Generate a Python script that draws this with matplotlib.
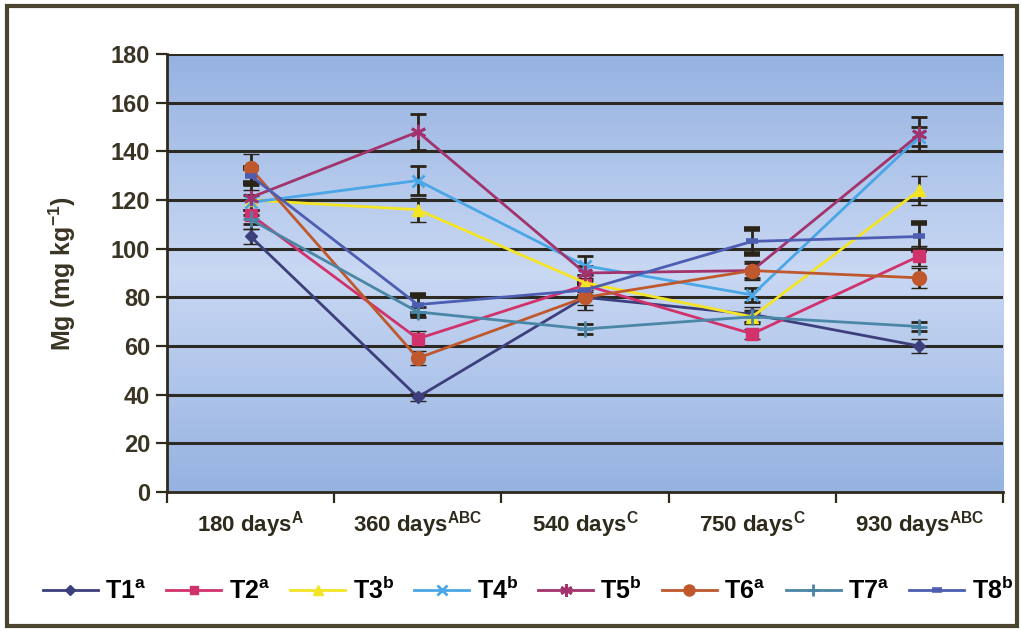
import numpy as np
import matplotlib
matplotlib.use("Agg")
import matplotlib.pyplot as plt
from matplotlib.colors import LinearSegmentedColormap
from matplotlib.lines import Line2D

plt.rcParams["font.family"] = ["Liberation Sans", "DejaVu Sans"]
plt.rcParams["font.weight"] = "bold"
plt.rcParams["mathtext.fontset"] = "custom"
plt.rcParams["mathtext.rm"] = "Liberation Sans:bold"
plt.rcParams["mathtext.bf"] = "Liberation Sans:bold"
plt.rcParams["mathtext.default"] = "bf"

days = ["180 days", "360 days", "540 days", "750 days", "930 days"]
day_letters = ["A", "ABC", "C", "C", "ABC"]

treatments = ["T1", "T2", "T3", "T4", "T5", "T6", "T7", "T8"]
treat_letters = ["a", "a", "b", "b", "b", "a", "a", "b"]

t1 = [105, 39, 80, 73, 60]
t2 = [114, 63, 85, 65, 97]
t3 = [120, 116, 86, 72, 124]
t4 = [119, 128, 93, 81, 146]
t5 = [121, 148, 90, 91, 147]
t6 = [133, 55, 80, 91, 88]
t7 = [112, 74, 67, 72, 68]
t8 = [130, 77, 83, 103, 105]

t1_err = [3, 1.5, 3, 3, 3]
t2_err = [6, 3, 3, 2, 4]
t3_err = [4, 5, 3, 3, 6]
t4_err = [3, 6, 4, 3, 4]
t5_err = [5, 7.5, 3, 3, 7]
t6_err = [6, 3, 5, 4, 4]
t7_err = [2, 2, 2, 2, 2]
t8_err = [3, 4, 3, 5, 5.5]

values = [t1, t2, t3, t4, t5, t6, t7, t8]
errors = [t1_err, t2_err, t3_err, t4_err, t5_err, t6_err, t7_err, t8_err]

colors = ["#3d3f7c", "#d2326c", "#f3e425", "#4aa6e6",
          "#a2336c", "#c0582e", "#4a86a6", "#4d5db2"]
markers = ["D", "s", "^", "x", (6, 2, 0), "o", "+", "_"]
msizes = [6, 8, 9, 9, 11, 10, 11, 9]
mews = [1, 1, 1, 2, 2, 1, 2, 4]

fig = plt.figure(figsize=(10.22, 6.31), dpi=100)
ax = fig.add_axes([167 / 1022, 1 - 492 / 631, 836 / 1022, 438 / 631])

# gradient background: darker blue at top and bottom, pale in the middle
grad_cmap = LinearSegmentedColormap.from_list(
    "bg", [(0.0, "#95b2e1"), (0.5, "#c9d8f3"), (1.0, "#95b2e1")])
grad = np.linspace(0, 1, 256).reshape(-1, 1)
ax.imshow(grad, cmap=grad_cmap, aspect="auto", extent=[-0.5, 4.5, 0, 180],
          zorder=0, origin="lower")

x = np.arange(len(days))
handles = []
for i, name in enumerate(treatments):
    ax.errorbar(x, values[i], yerr=errors[i], color=colors[i], lw=2,
                marker=markers[i], ms=msizes[i], mew=mews[i],
                mec=colors[i], mfc=colors[i], ecolor="#2a2418",
                elinewidth=2, capsize=6, capthick=2.2, zorder=3)
    handles.append(Line2D([], [], color=colors[i], lw=2, marker=markers[i],
                          ms=msizes[i] * 0.8, mew=mews[i], mec=colors[i],
                          mfc=colors[i],
                          label=name + r"$^{\mathrm{" + treat_letters[i] + "}}$"))

ax.set_xlim(-0.5, 4.5)
ax.set_ylim(0, 180)
ax.set_yticks(np.arange(0, 181, 20))
for yv in np.arange(20, 181, 20):
    ax.axhline(yv, color="#2c2a22", lw=2.2, zorder=1)

ax.set_xticks(np.arange(-0.5, 4.6, 1))
ax.set_xticklabels([])
ax.set_xticks(x, minor=True)
ax.set_xticklabels([d + r"$^{\mathrm{" + l + "}}$" for d, l in zip(days, day_letters)],
                   minor=True, fontsize=16, fontweight="bold", color="#2e2a1c")
ax.tick_params(axis="x", which="minor", length=0, pad=12)
ax.tick_params(axis="x", which="major", length=8, width=1.6, color="#2e2a1c",
               direction="out")
ax.tick_params(axis="y", length=8, width=1.6, color="#2e2a1c", labelsize=17,
               labelcolor="#3a3424", pad=4)
for lab in ax.get_yticklabels():
    lab.set_fontweight("bold")

for side in ["top", "right"]:
    ax.spines[side].set_visible(False)
for side in ["left", "bottom"]:
    ax.spines[side].set_color("#2e2a1c")
    ax.spines[side].set_linewidth(2)

ax.set_ylabel(r"Mg (mg kg$^{\mathrm{-1}}$)", fontsize=18, fontweight="bold",
              color="#3a3424", labelpad=24)

fig.legend(handles=handles, loc="center",
           bbox_to_anchor=(528 / 1022, 1 - 590 / 631), ncol=8,
           frameon=False, fontsize=18, handlelength=2.2, handletextpad=0.3,
           columnspacing=0.8)

# outer frame around the whole figure
frame = plt.Rectangle((7 / 1022, 5 / 631), 1010 / 1022, 620 / 631,
                      transform=fig.transFigure, fill=False,
                      edgecolor="#4a4430", lw=3)
fig.patches.append(frame)

fig.savefig("out.png", dpi=100)
